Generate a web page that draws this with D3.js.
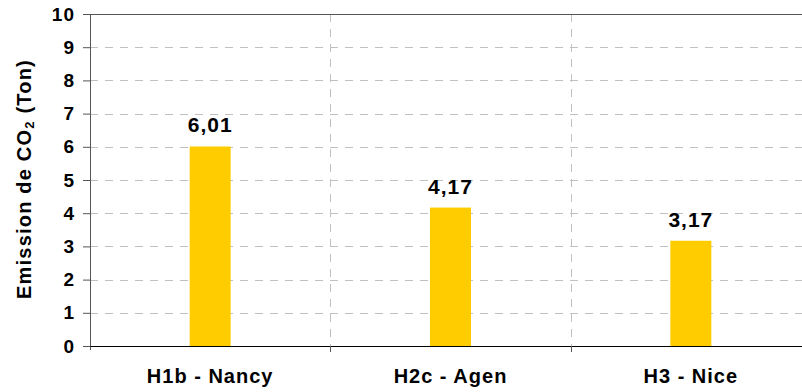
<!DOCTYPE html>
<html>
<head>
<meta charset="utf-8">
<script src="https://cdn.jsdelivr.net/npm/d3@7"></script>
<style>
  body { margin: 0; background: #fff; }
  text { font-family: "Liberation Sans", Arial, sans-serif; font-weight: bold; fill: #000; }
</style>
</head>
<body>
<svg width="802" height="392"></svg>
<script>
var categories = ["H1b - Nancy", "H2c - Agen", "H3 - Nice"];
var values = [6.01, 4.17, 3.17];
var yTicks = [0, 1, 2, 3, 4, 5, 6, 7, 8, 9, 10];

var margin = {left: 90, top: 14, right: 811, bottom: 346};

var svg = d3.select("svg");

var xScale = d3.scaleBand()
               .domain(categories)
               .range([margin.left, margin.right]);
var yScale = d3.scaleLinear()
               .domain([0, 10])
               .range([margin.bottom, margin.top]);

// horizontal dashed grid
svg.append("g")
   .selectAll("line")
   .data(yTicks.slice(1, -1))
   .enter().append("line")
   .attr("x1", margin.left).attr("x2", margin.right)
   .attr("y1", function(d) { return Math.round(yScale(d)) + 0.5; })
   .attr("y2", function(d) { return Math.round(yScale(d)) + 0.5; })
   .attr("stroke", "#c0c0c0")
   .attr("stroke-dasharray", "8,7");

// vertical dashed grid at category boundaries
svg.append("g")
   .selectAll("line")
   .data(categories.slice(1))
   .enter().append("line")
   .attr("x1", function(d) { return Math.round(xScale(d)) + 0.5; })
   .attr("x2", function(d) { return Math.round(xScale(d)) + 0.5; })
   .attr("y1", margin.top).attr("y2", margin.bottom)
   .attr("stroke", "#c0c0c0")
   .attr("stroke-dasharray", "8,7");

// top border of plot area
svg.append("line")
   .attr("x1", margin.left).attr("x2", margin.right)
   .attr("y1", margin.top + 0.5).attr("y2", margin.top + 0.5)
   .attr("stroke", "#555");

// bars
var barW = 41;
svg.append("g")
   .selectAll("rect")
   .data(values)
   .enter().append("rect")
   .attr("x", function(d, i) { return xScale(categories[i]) + xScale.bandwidth() / 2 - barW / 2; })
   .attr("y", function(d) { return yScale(d); })
   .attr("width", barW)
   .attr("height", function(d) { return yScale(0) - yScale(d); })
   .attr("fill", "#ffcc00");

// value labels
svg.append("g")
   .selectAll("text")
   .data(values)
   .enter().append("text")
   .attr("x", function(d, i) { return xScale(categories[i]) + xScale.bandwidth() / 2; })
   .attr("y", function(d) { return yScale(d) - 14; })
   .attr("text-anchor", "middle")
   .style("font-size", "21px")
   .style("letter-spacing", "1px")
   .text(function(d) { return d.toFixed(2).replace(".", ","); });

// y axis
var y_axis = d3.axisLeft(yScale)
               .tickValues(yTicks)
               .tickSize(7)
               .tickPadding(8);
var gy = svg.append("g")
   .attr("transform", "translate(" + margin.left + ",0)")
   .call(y_axis);
gy.select(".domain").attr("stroke", "#555").attr("d", "M-7,14.5H0.5V350");
gy.selectAll(".tick line").attr("stroke", "#555");
gy.selectAll(".tick text")
  .style("font-size", "19px")
  .style("letter-spacing", "1px")
  .attr("font-family", null);

// x axis
var x_axis = d3.axisBottom(xScale)
               .tickValues([])
               .tickSizeOuter(0);
var gx = svg.append("g")
   .attr("transform", "translate(0," + margin.bottom + ")")
   .call(x_axis);
gx.select(".domain").attr("stroke", "#000");

// ticks at category boundaries
svg.append("g")
   .selectAll("line")
   .data(categories.slice(1))
   .enter().append("line")
   .attr("x1", function(d) { return Math.round(xScale(d)) + 0.5; })
   .attr("x2", function(d) { return Math.round(xScale(d)) + 0.5; })
   .attr("y1", margin.bottom).attr("y2", margin.bottom + 6)
   .attr("stroke", "#555");

// category labels
svg.append("g")
   .selectAll("text")
   .data(categories)
   .enter().append("text")
   .attr("x", function(d) { return xScale(d) + xScale.bandwidth() / 2; })
   .attr("y", 383)
   .attr("text-anchor", "middle")
   .style("font-size", "20px")
   .style("letter-spacing", "1px")
   .text(function(d) { return d; });

// y axis title
var title = svg.append("text")
   .attr("transform", "translate(31,179) rotate(-90)")
   .attr("text-anchor", "middle")
   .style("font-size", "20px")
   .style("letter-spacing", "1.2px");
title.append("tspan").text("Emission de CO");
title.append("tspan").attr("dy", 3).style("font-size", "13px").text("2");
title.append("tspan").attr("dy", -3).text(" (Ton)");
</script>
</body>
</html>
